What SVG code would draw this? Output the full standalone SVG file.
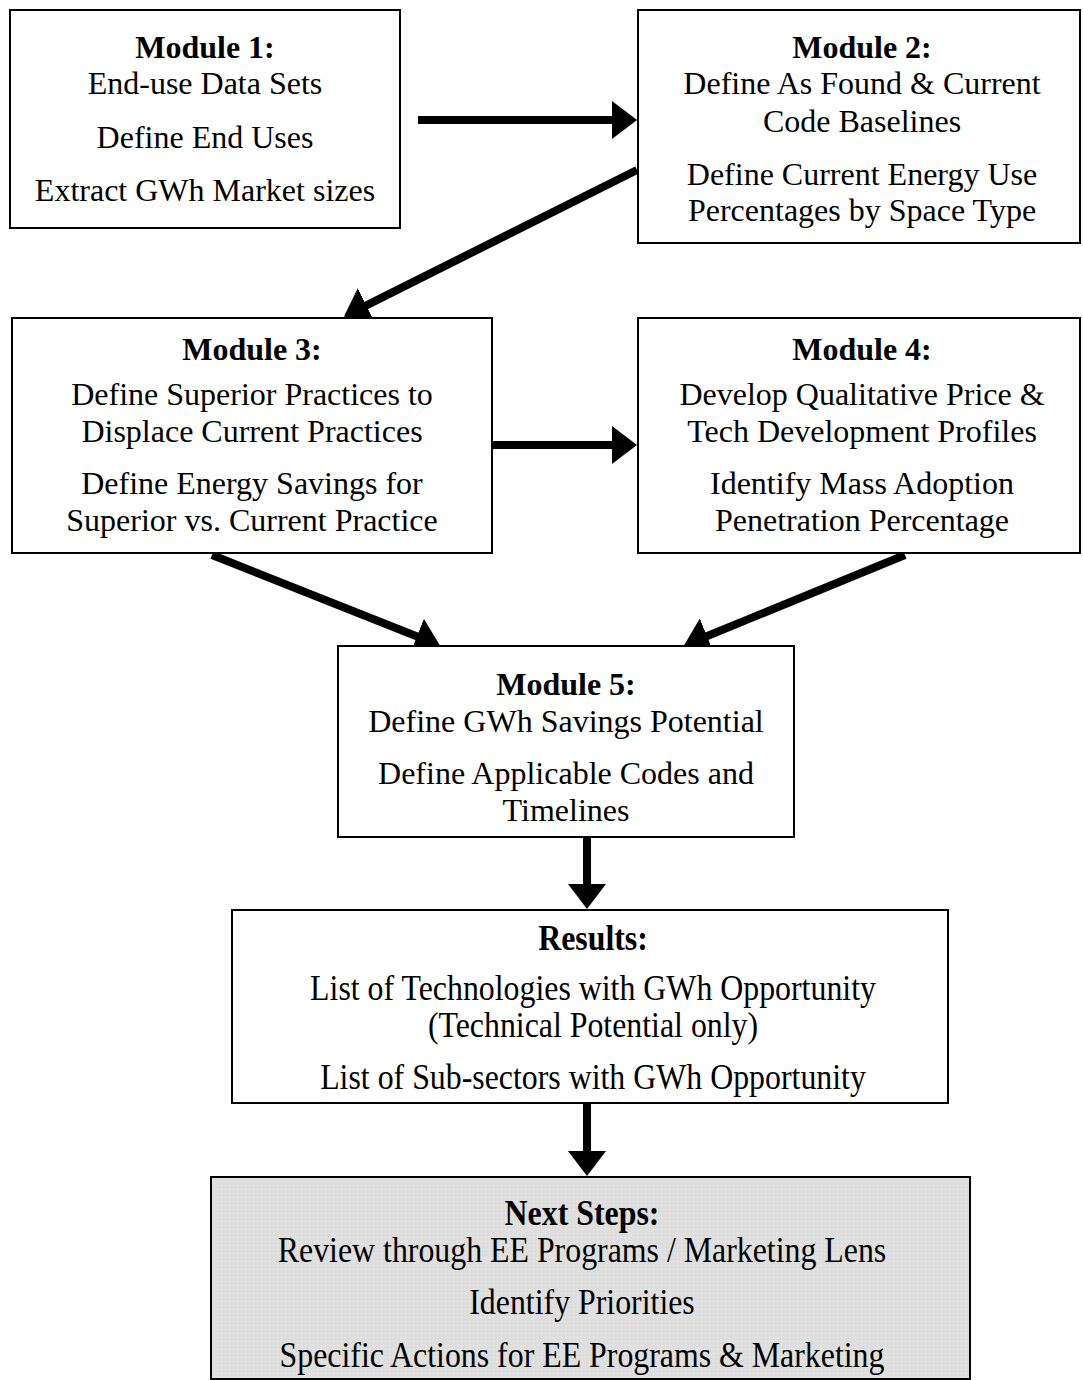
<svg xmlns="http://www.w3.org/2000/svg" width="1083" height="1380" viewBox="0 0 1083 1380">
  <style>
    .box { fill: #ffffff; stroke: #000000; stroke-width: 2; }
    .gray { fill: url(#dots); stroke: #000000; stroke-width: 2; }
    .t { font-family: "Liberation Serif", "Times New Roman", serif; font-size: 32px; fill: #000000; text-anchor: middle; }
    .h { font-weight: bold; }
    .tc { font-family: "Liberation Serif", "Times New Roman", serif; font-size: 35px; fill: #000000; text-anchor: middle; }
    .conn { stroke: #000000; stroke-width: 8; fill: none; marker-end: url(#ah); }
  </style>
  <defs>
    <marker id="ah" viewBox="0 0 25 38" refX="1" refY="19" markerWidth="25" markerHeight="38" markerUnits="userSpaceOnUse" orient="auto">
      <path d="M0,0 L25,19 L0,38 Z" fill="#000000"/>
    </marker>
    <pattern id="dots" width="4" height="4" patternUnits="userSpaceOnUse">
      <rect width="4" height="4" fill="#dedede"/>
      <rect x="1" y="1" width="1" height="1" fill="#eeeeee"/>
    </pattern>
  </defs>

  <rect width="1083" height="1380" fill="#ffffff"/>

  <g id="connectors">
    <line class="conn" x1="418" y1="120" x2="613" y2="120"/>
    <line class="conn" x1="637" y1="170" x2="365.4" y2="305.8"/>
    <line class="conn" x1="492" y1="445" x2="613" y2="445"/>
    <line class="conn" x1="212" y1="555" x2="417.8" y2="636.8"/>
    <line class="conn" x1="905" y1="555" x2="706.1" y2="636.5"/>
    <line class="conn" x1="587" y1="837" x2="587" y2="885"/>
    <line class="conn" x1="587" y1="1103" x2="587" y2="1152"/>
  </g>

  <g id="module1">
    <rect class="box" x="10" y="10" width="390" height="218"/>
    <text class="t h" x="205" y="58">Module 1:</text>
    <text class="t" x="205" y="94">End-use Data Sets</text>
    <text class="t" x="205" y="148">Define End Uses</text>
    <text class="t" x="205" y="201">Extract GWh Market sizes</text>
  </g>

  <g id="module2">
    <rect class="box" x="638" y="10" width="442" height="233"/>
    <text class="t h" x="862" y="58">Module 2:</text>
    <text class="t" x="862" y="94">Define As Found &amp; Current</text>
    <text class="t" x="862" y="132">Code Baselines</text>
    <text class="t" x="862" y="185">Define Current Energy Use</text>
    <text class="t" x="862" y="221">Percentages by Space Type</text>
  </g>

  <g id="module3">
    <rect class="box" x="12" y="318" width="480" height="235"/>
    <text class="t h" x="252" y="360">Module 3:</text>
    <text class="t" x="252" y="405">Define Superior Practices to</text>
    <text class="t" x="252" y="442">Displace Current Practices</text>
    <text class="t" x="252" y="494">Define Energy Savings for</text>
    <text class="t" x="252" y="531">Superior vs. Current Practice</text>
  </g>

  <g id="module4">
    <rect class="box" x="638" y="318" width="442" height="235"/>
    <text class="t h" x="862" y="360">Module 4:</text>
    <text class="t" x="862" y="405">Develop Qualitative Price &amp;</text>
    <text class="t" x="862" y="442">Tech Development Profiles</text>
    <text class="t" x="862" y="494">Identify Mass Adoption</text>
    <text class="t" x="862" y="531">Penetration Percentage</text>
  </g>

  <g id="module5">
    <rect class="box" x="338" y="646" width="456" height="191"/>
    <text class="t h" x="566" y="695">Module 5:</text>
    <text class="t" x="566" y="732">Define GWh Savings Potential</text>
    <text class="t" x="566" y="784">Define Applicable Codes and</text>
    <text class="t" x="566" y="821">Timelines</text>
  </g>

  <g id="results">
    <rect class="box" x="232" y="910" width="716" height="193"/>
    <g transform="translate(593 0) scale(0.91 1)">
      <text class="tc h" x="0" y="950">Results:</text>
      <text class="tc" x="0" y="1000">List of Technologies with GWh Opportunity</text>
      <text class="tc" x="0" y="1037">(Technical Potential only)</text>
      <text class="tc" x="0" y="1089">List of Sub-sectors with GWh Opportunity</text>
    </g>
  </g>

  <g id="next-steps">
    <rect class="gray" x="211" y="1177" width="759" height="202"/>
    <g transform="translate(582 0) scale(0.91 1)">
      <text class="tc h" x="0" y="1225">Next Steps:</text>
      <text class="tc" x="0" y="1262">Review through EE Programs / Marketing Lens</text>
      <text class="tc" x="0" y="1314">Identify Priorities</text>
      <text class="tc" x="0" y="1367">Specific Actions for EE Programs &amp; Marketing</text>
    </g>
  </g>
</svg>
